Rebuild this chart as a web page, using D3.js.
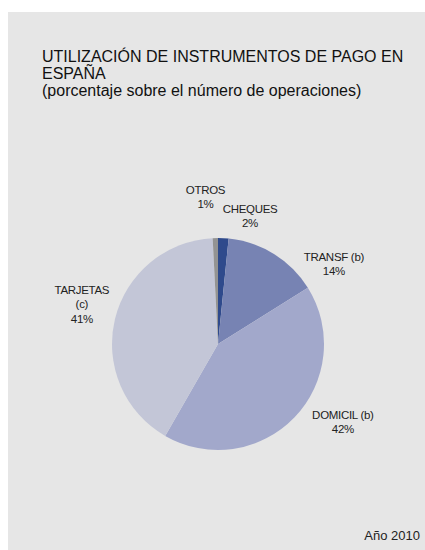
<!DOCTYPE html>
<html>
<head>
<meta charset="utf-8">
<script src="https://cdn.jsdelivr.net/npm/d3@7"></script>
<style>
  body { margin: 0; background: #fff; }
  svg { display: block; font-family: "Liberation Sans", Arial, sans-serif; }
</style>
</head>
<body>
<div id="grafico"></div>
<script>
// Datos del gráfico (año 2010)
var categorias = ["CHEQUES", "TRANSF (b)", "DOMICIL (b)", "TARJETAS (c)", "OTROS"]
var etiquetas = [["CHEQUES"], ["TRANSF (b)"], ["DOMICIL (b)"], ["TARJETAS", "(c)"], ["OTROS"]]
var valores = [1.6, 14.5, 42.2, 40.9, 0.8]
var porcentajes = ["2%", "14%", "42%", "41%", "1%"]
var colores = ["#2f4a8c", "#7783b3", "#a2a8cb", "#c3c6d7", "#939393"]

var titulo = ["UTILIZACIÓN DE INSTRUMENTOS DE PAGO EN", "ESPAÑA", "(porcentaje sobre el número de operaciones)"]
var nota = "Año 2010"

var width = 425
var height = 550
var radio = 106
var cx = 218, cy = 344
var radioEtiqueta = 140
// pequeños ajustes de las etiquetas (como las coloca Excel)
var ajuste = [[25, 12], [42, 39], [24, -19], [0, -7], [-9, -7]]

var svg = d3.select("#grafico")
    .append("svg")
    .attr("width", width)
    .attr("height", height)

// fondo gris
svg.append("rect")
    .attr("x", 8)
    .attr("y", 12)
    .attr("width", width - 8)
    .attr("height", height - 12)
    .attr("fill", "#e6e6e6")

// título
svg.append("g")
    .selectAll("text")
    .data(titulo)
    .join("text")
    .attr("x", 42)
    .attr("y", (d, i) => 62 + i * 17)
    .attr("font-size", "16px")
    .attr("fill", "#111")
    .text(d => d)

var pie = d3.pie().sort(null).value(d => d)
var arcos = pie(valores)

var arc = d3.arc().innerRadius(0).outerRadius(radio)
var arcEtiqueta = d3.arc().innerRadius(radioEtiqueta).outerRadius(radioEtiqueta)

var g = svg.append("g")
    .attr("transform", "translate(" + cx + "," + cy + ")")

g.selectAll("path")
    .data(arcos)
    .join("path")
    .attr("d", arc)
    .attr("fill", (d, i) => colores[i])

// etiquetas de los sectores
var lh = 14.3
var grupos = g.selectAll("g.etiqueta")
    .data(arcos)
    .join("g")
    .attr("class", "etiqueta")
    .attr("transform", function(d, i) {
        var c = arcEtiqueta.centroid(d)
        return "translate(" + (c[0] + ajuste[i][0]) + "," + (c[1] + ajuste[i][1]) + ")"
    })

grupos.each(function(d, i) {
    var lineas = etiquetas[i].concat([porcentajes[i]])
    var y0 = -(lineas.length - 1) * lh / 2 + 4
    d3.select(this).selectAll("text")
        .data(lineas)
        .join("text")
        .attr("x", 0)
        .attr("y", (t, j) => y0 + j * lh)
        .attr("text-anchor", "middle")
        .attr("font-size", "11.5px")
        .attr("letter-spacing", "-0.3px")
        .attr("fill", "#222")
        .text(t => t)
})

// nota
svg.append("text")
    .attr("x", 420)
    .attr("y", 540)
    .attr("text-anchor", "end")
    .attr("font-size", "13px")
    .attr("fill", "#222")
    .text(nota)
</script>
</body>
</html>
